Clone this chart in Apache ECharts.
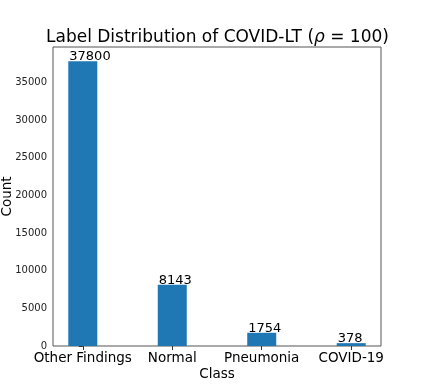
<!DOCTYPE html>
<html>
<head>
<meta charset="utf-8">
<script src="https://cdn.jsdelivr.net/npm/echarts@6/dist/echarts.min.js"></script>
<style>html,body{margin:0;padding:0;background:#fff}#c{width:423px;height:389px}</style>
</head>
<body>
<div id="c"></div>
<script>
const categories = ['Other Findings', 'Normal', 'Pneumonia', 'COVID-19'];
const counts = [37800, 8143, 1754, 378];
const yTicks = [0, 5000, 10000, 15000, 20000, 25000, 30000, 35000];

const FONT = 'DejaVu Sans';
const chart = echarts.init(document.getElementById('c'), null, {renderer: 'canvas'});
chart.setOption({
  animation: false,
  title: {
    text: '{a|Label Distribution of COVID-LT (}{i|ρ}{a| = 100)}',
    left: 41,
    top: 24,
    textStyle: {
      fontWeight: 'normal',
      rich: {
        a: {fontFamily: FONT, fontSize: 17, fontWeight: 'normal', color: '#000'},
        i: {fontFamily: FONT, fontSize: 17, fontWeight: 'normal', fontStyle: 'italic', color: '#000'}
      }
    }
  },
  grid: {left: 53, top: 47, right: 42, bottom: 43, containLabel: false, outerBoundsMode: 'none',
         show: true, borderColor: '#555', borderWidth: 1, backgroundColor: 'transparent'},
  xAxis: {
    type: 'value',
    min: -0.333, max: 3.333,
    splitLine: {show: false},
    axisLine: {show: false},
    axisTick: {show: true, customValues: [0, 1, 2, 3], length: 4, lineStyle: {color: '#333'}},
    axisLabel: {customValues: [0, 1, 2, 3], formatter: v => categories[Math.round(v)], fontFamily: FONT, fontSize: 13.5, color: '#000', margin: 5},
    name: 'Class', nameLocation: 'middle', nameGap: 21, nameMoveOverlap: false,
    nameTextStyle: {fontFamily: FONT, fontSize: 13.5, color: '#000'}
  },
  yAxis: {
    type: 'value',
    min: 0, max: 39690,
    splitLine: {show: false},
    axisLine: {show: false},
    axisTick: {show: true, customValues: yTicks, length: 4, lineStyle: {color: '#333'}},
    axisLabel: {customValues: yTicks, formatter: v => String(v), fontFamily: FONT, fontSize: 10, color: '#222', margin: 6},
    name: 'Count', nameLocation: 'middle', nameGap: 39, nameMoveOverlap: false,
    nameTextStyle: {fontFamily: FONT, fontSize: 13.5, color: '#000'}
  },
  series: [{
    type: 'bar',
    barWidth: 29,
    data: counts.map((v, i) => [i, v]),
    itemStyle: {color: '#1f77b4'},
    label: {show: true, position: [1, 2], align: 'left', verticalAlign: 'bottom',
            fontFamily: FONT, fontSize: 13, color: '#000', formatter: p => String(p.value[1])}
  }]
});
</script>
</body>
</html>
